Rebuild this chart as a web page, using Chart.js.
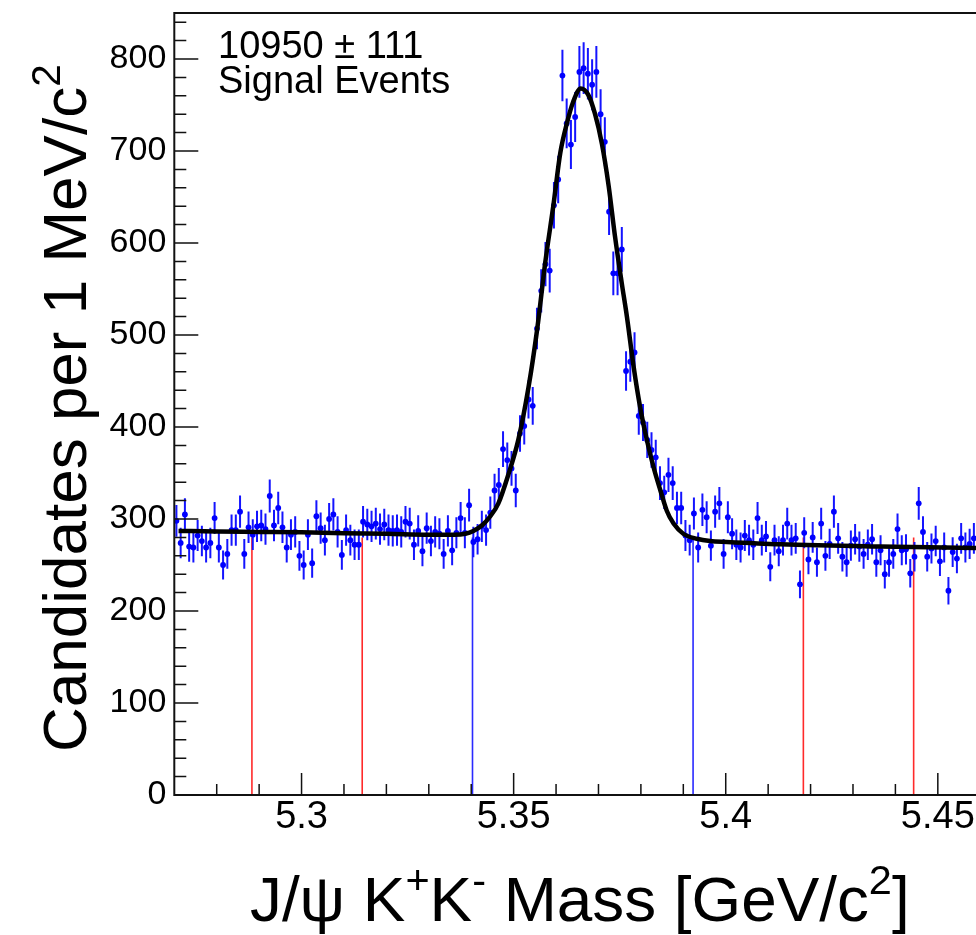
<!DOCTYPE html>
<html>
<head>
<meta charset="utf-8">
<script src="https://cdn.jsdelivr.net/npm/chart.js@4.4.1/dist/chart.umd.min.js"></script>
<style>
  html, body { margin: 0; padding: 0; background: #fff; }
  canvas { display: block; }
</style>
</head>
<body>
<canvas id="massChart" width="976" height="935"></canvas>
<script>
// histogram binning: 1 MeV bins starting at 5.270 GeV
const massLow = 5.270;
const binWidth = 0.001;

// candidates per bin
const counts = [
  298, 274, 305, 270, 269, 282, 276, 269, 274, 301,
  269, 250, 262, 288, 288, 308, 262, 291, 283, 292,
  293, 289, 325, 293, 312, 291, 269, 283, 286, 260,
  250, 283, 252, 303, 290, 277, 300, 305, 286, 261,
  288, 277, 272, 272, 297, 294, 292, 295, 289, 294,
  288, 287, 288, 286, 297, 295, 272, 287, 265, 290,
  276, 286, 284, 262, 287, 266, 285, 301, 285, 315,
  275, 278, 292, 288, 307, 331, 337, 376, 364, 355,
  331, 393, 401, 430, 423, 507, 548, 577, 570, 641,
  669, 782, 730, 707, 737, 786, 790, 784, 772, 786,
  740, 710, 634, 567, 567, 593, 461, 471, 481, 412,
  405, 386, 375, 367, 339, 329, 348, 339, 312, 312,
  282, 277, 306, 269, 310, 302, 271, 308, 317, 262,
  302, 284, 272, 269, 282, 277, 272, 301, 277, 281,
  248, 277, 265, 277, 295, 277, 279, 229, 285, 256,
  280, 253, 295, 260, 273, 308, 279, 259, 253, 271,
  278, 270, 262, 272, 278, 253, 266, 240, 253, 262,
  289, 266, 267, 241, 259, 317, 286, 259, 268, 276,
  254, 269, 222, 264, 257, 279, 269, 273, 279
];

// fit curve, sampled from the plot
const fitMass = [
  5.2710, 5.2800, 5.2900, 5.3000, 5.3100, 5.3200, 5.3300, 5.3360, 5.3386, 5.3405,
  5.3425, 5.3445, 5.3464, 5.3488, 5.3511, 5.3535, 5.3556, 5.3574, 5.3594, 5.3610,
  5.3626, 5.3640, 5.3658, 5.3676, 5.3692, 5.3708, 5.3724, 5.3739, 5.3755, 5.3767,
  5.3783, 5.3798, 5.3814, 5.3830, 5.3846, 5.3861, 5.3877, 5.3900, 5.3932, 5.3963,
  5.4003, 5.4128, 5.4364, 5.4590
];
const fitValue = [
  287, 286.5, 286, 285.5, 284.5, 284, 283, 283, 284, 287,
  293, 303, 317, 349, 386, 443, 508, 577, 642, 698,
  731, 753, 768, 761, 740, 708, 662, 607, 556, 520,
  465, 422, 386, 356, 331, 309, 295, 284, 278.5, 276,
  275, 272.5, 270, 268.5
];

const sidebandEdges = [5.2883, 5.3143, 5.4183, 5.4443];
const signalEdges = [5.3403, 5.3923];
const edgeTop = 280;

const xTicks = [5.30, 5.35, 5.40, 5.45];
const yTicks = [0, 100, 200, 300, 400, 500, 600, 700, 800];

const yieldText = ["10950 \u00b1 111", "Signal Events"];

const FONT = "'Liberation Sans', Arial, Helvetica, sans-serif";
Chart.defaults.font.family = FONT;

const points = counts.map((n, i) => ({ x: massLow + (i + 0.5) * binWidth, y: n }));
const fitPoints = fitMass.map((m, i) => ({ x: m, y: fitValue[i] }));

function edgeLine(m, color) {
  return {
    type: "line",
    data: [{ x: m, y: 0 }, { x: m, y: edgeTop }],
    borderColor: color,
    borderWidth: 1.6,
    pointRadius: 0,
    order: 2
  };
}

// vertical sqrt(N) error bars, drawn just before the points
const errorBars = {
  id: "errorBars",
  beforeDatasetDraw(chart, args) {
    if (args.index !== 1) return;
    const { ctx, scales: { x, y } } = chart;
    ctx.save();
    ctx.strokeStyle = "#1414ff";
    ctx.lineWidth = 2;
    ctx.beginPath();
    counts.forEach((n, i) => {
      const px = x.getPixelForValue(massLow + (i + 0.5) * binWidth);
      const err = Math.sqrt(n);
      ctx.moveTo(px, y.getPixelForValue(n - err));
      ctx.lineTo(px, y.getPixelForValue(n + err));
    });
    ctx.stroke();
    ctx.restore();
  }
};

function drawPieces(ctx, pieces, x, y, size) {
  pieces.forEach(([text, sup]) => {
    const s = sup ? size * 0.65 : size;
    ctx.font = `${s}px ${FONT}`;
    ctx.fillText(text, x, sup ? y - size * 0.42 : y);
    x += ctx.measureText(text).width;
  });
}

// frame, inside ticks, axis titles and the yield label
const frame = {
  id: "frame",
  afterDraw(chart) {
    const { ctx, chartArea: a, scales: { x, y } } = chart;
    ctx.save();
    ctx.strokeStyle = "#111";
    ctx.lineWidth = 2;
    ctx.beginPath();
    ctx.moveTo(a.right + 2, a.top);
    ctx.lineTo(a.left, a.top);
    ctx.lineTo(a.left, a.bottom);
    ctx.lineTo(a.right + 2, a.bottom);
    ctx.stroke();

    ctx.lineWidth = 1.5;
    ctx.beginPath();
    for (let k = 527; k <= 545; k++) {
      const px = x.getPixelForValue(k / 100);
      if (px <= a.left + 1) continue;
      const len = k % 5 === 0 ? 22 : 11;
      ctx.moveTo(px, a.bottom);
      ctx.lineTo(px, a.bottom - len);
    }
    for (let v = 0; v <= 840; v += 20) {
      const py = y.getPixelForValue(v);
      const len = v % 100 === 0 ? 24 : 12;
      ctx.moveTo(a.left, py);
      ctx.lineTo(a.left + len, py);
    }
    ctx.stroke();

    ctx.fillStyle = "#000";
    ctx.textBaseline = "alphabetic";
    ctx.textAlign = "left";
    ctx.font = `38px ${FONT}`;
    ctx.fillText(yieldText[0], 218, 58);
    ctx.fillText(yieldText[1], 218, 93);

    drawPieces(ctx, [["J/\u03c8 K"], ["+", true], ["K"], ["-", true], [" Mass [GeV/c"], ["2", true], ["]"]], 250, 921, 63.8);

    ctx.save();
    ctx.translate(86, 752);
    ctx.rotate(-Math.PI / 2);
    drawPieces(ctx, [["Candidates per 1 MeV/c"], ["2", true]], 0, 0, 62);
    ctx.restore();

    ctx.restore();
  }
};

new Chart(document.getElementById("massChart"), {
  type: "scatter",
  data: {
    datasets: [
      {
        type: "line",
        data: fitPoints,
        borderColor: "#000",
        borderWidth: 4.5,
        pointRadius: 0,
        cubicInterpolationMode: "monotone",
        order: 0
      },
      {
        data: points,
        pointRadius: 2.9,
        pointBackgroundColor: "#0000ff",
        pointBorderWidth: 0,
        order: 1
      },
      ...sidebandEdges.map(m => edgeLine(m, "#ff2a2a")),
      ...signalEdges.map(m => edgeLine(m, "#2a2aff"))
    ]
  },
  options: {
    responsive: false,
    animation: false,
    devicePixelRatio: 1,
    layout: { autoPadding: false, padding: { top: 13, right: 0, bottom: 0, left: 0 } },
    plugins: { legend: { display: false }, tooltip: { enabled: false } },
    scales: {
      x: {
        type: "linear",
        min: 5.27,
        max: 5.459,
        grid: { display: false, drawTicks: false },
        border: { display: false },
        afterBuildTicks: s => { s.ticks = xTicks.map(v => ({ value: v })); },
        afterFit: s => { s.height = 140; s.paddingLeft = 0; s.paddingRight = 0; },
        ticks: {
          font: { size: 38 },
          color: "#000",
          padding: 0,
          maxRotation: 0,
          autoSkip: false,
          callback: v => String(Number(v.toFixed(2)))
        }
      },
      y: {
        min: 0,
        max: 850,
        grid: { display: false, drawTicks: false },
        border: { display: false },
        afterBuildTicks: s => { s.ticks = yTicks.map(v => ({ value: v })); },
        afterFit: s => { s.width = 174.3; s.paddingTop = 0; s.paddingBottom = 0; },
        ticks: { font: { size: 34 }, color: "#000", padding: 8, autoSkip: false }
      }
    }
  },
  plugins: [errorBars, frame]
});
</script>
</body>
</html>
